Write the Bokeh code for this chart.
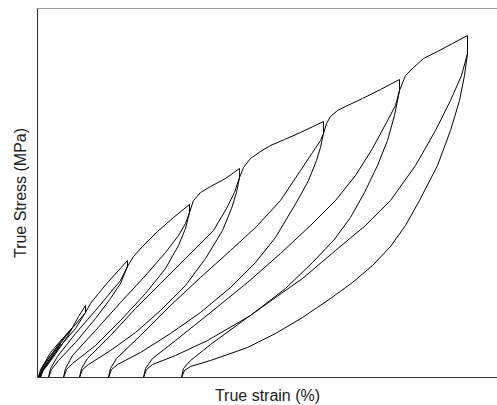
from bokeh.plotting import figure
from bokeh.models import Span, FixedTicker
from bokeh.embed import file_html
from bokeh.resources import INLINE

# Cyclic loading test: each list is one loading/unloading cycle
# strain in %, stress in MPa
cycle1_strain = [0.00, 0.05, 0.13, 0.23, 0.18, 0.11, 0.04, 0.01, 0.03, 0.10, 0.17, 0.23, 0.29, 0.35,
                 0.30, 0.21, 0.12, 0.05, 0.02, 0.04, 0.11, 0.21, 0.29, 0.35, 0.41, 0.48, 0.48,
                 0.38, 0.25, 0.13, 0.06, 0.03]
cycle1_stress = [0.0, 0.8, 2.0, 3.4, 2.5, 1.5, 0.6, 0.0, 0.8, 1.8, 2.7, 3.4, 4.2, 5.0,
                 4.1, 2.8, 1.5, 0.6, 0.0, 0.8, 1.9, 3.3, 4.3, 5.0, 6.1, 7.2, 6.5,
                 4.9, 3.4, 1.9, 0.8, 0.0]

cycle2_strain = [0.03, 0.05, 0.13, 0.25, 0.38, 0.48, 0.53, 0.61, 0.71, 0.81, 0.90, 0.90,
                 0.83, 0.73, 0.58, 0.38, 0.21, 0.14, 0.11]
cycle2_stress = [0.0, 1.1, 2.5, 3.9, 5.3, 6.5, 7.4, 8.4, 9.6, 10.7, 11.7, 11.1,
                 9.4, 7.9, 5.9, 3.5, 1.7, 0.8, 0.0]

cycle3_strain = [0.11, 0.13, 0.20, 0.38, 0.58, 0.73, 0.83, 0.90, 0.96, 1.05, 1.20, 1.36, 1.52, 1.52,
                 1.48, 1.41, 1.28, 1.08, 0.83, 0.58, 0.35, 0.29, 0.26]
cycle3_stress = [0.0, 0.9, 2.1, 4.4, 6.7, 8.5, 9.7, 11.1, 12.1, 13.1, 14.6, 16.0, 17.3, 16.5,
                 14.9, 13.2, 10.9, 8.4, 5.7, 3.2, 1.4, 0.8, 0.0]

cycle4_strain = [0.26, 0.28, 0.35, 0.58, 0.83, 1.08, 1.28, 1.41, 1.48, 1.52, 1.56, 1.63, 1.73, 1.88,
                 2.02, 2.02, 1.99, 1.94, 1.85, 1.68, 1.48, 1.23, 0.98, 0.73, 0.51, 0.45, 0.42]
cycle4_stress = [0.0, 0.9, 2.2, 4.7, 7.5, 10.2, 12.5, 14.2, 15.4, 16.5, 17.7, 18.5, 19.1, 19.9,
                 20.9, 20.0, 18.5, 16.9, 14.7, 11.9, 9.2, 6.7, 4.5, 2.7, 1.3, 0.8, 0.0]

cycle5_strain = [0.42, 0.44, 0.50, 0.73, 0.98, 1.23, 1.48, 1.76, 1.89, 1.97, 2.02, 2.06, 2.13, 2.23,
                 2.33, 2.47, 2.63, 2.86, 2.86, 2.83, 2.79, 2.71, 2.60, 2.38, 2.18, 1.93, 1.63,
                 1.33, 1.03, 0.80, 0.74, 0.71]
cycle5_stress = [0.0, 0.9, 1.9, 4.2, 6.9, 9.4, 11.9, 14.7, 16.9, 18.5, 20.0, 21.0, 21.9, 22.6,
                 23.2, 23.8, 24.5, 25.6, 24.4, 23.0, 21.7, 19.7, 17.7, 14.0, 11.5, 9.0, 6.5,
                 4.4, 2.5, 1.3, 0.8, 0.0]

cycle6_strain = [0.71, 0.73, 0.79, 1.03, 1.33, 1.63, 1.93, 2.18, 2.43, 2.63, 2.75, 2.83, 2.86,
                 2.89, 2.93, 3.00, 3.08, 3.25, 3.43, 3.62, 3.62, 3.57, 3.50, 3.40, 3.27, 3.13,
                 2.96, 2.75, 2.48, 2.13, 1.70, 1.38, 1.15, 1.09, 1.06]
cycle6_stress = [0.0, 0.9, 1.9, 4.2, 7.2, 10.0, 12.7, 15.0, 17.7, 20.7, 22.5, 23.7, 24.4,
                 25.4, 26.1, 26.7, 27.1, 27.9, 28.8, 29.8, 28.7, 26.2, 23.7, 21.2, 18.5, 16.0,
                 13.7, 11.5, 8.9, 6.2, 3.7, 2.2, 1.3, 0.8, 0.0]

cycle7_strain = [1.06, 1.08, 1.15, 1.38, 1.73, 2.10, 2.43, 2.73, 2.98, 3.18, 3.35, 3.49, 3.58, 3.62,
                 3.68, 3.76, 3.86, 4.00, 4.15, 4.30, 4.30, 4.27, 4.22, 4.13, 4.00, 3.82, 3.68,
                 3.53, 3.35, 3.15, 2.93, 2.65, 2.38, 2.10, 1.73, 1.53, 1.47, 1.44]
cycle7_stress = [0.0, 0.9, 1.9, 3.7, 6.5, 9.5, 12.4, 15.2, 17.7, 20.2, 22.9, 25.5, 27.2, 28.7,
                 30.2, 31.0, 31.9, 32.6, 33.4, 34.2, 32.4, 30.2, 27.7, 24.7, 21.2, 17.7, 15.2,
                 13.1, 11.2, 9.5, 7.9, 6.0, 4.4, 3.0, 1.7, 1.1, 0.7, 0.0]

cycle8_strain = [1.44, 1.46, 1.53, 1.73, 2.10, 2.38, 2.65, 2.98, 3.28, 3.53, 3.78, 3.98, 4.13, 4.24, 4.30]
cycle8_stress = [0.0, 0.9, 1.7, 3.3, 6.0, 8.0, 9.9, 12.7, 15.2, 17.7, 21.2, 24.7, 27.7, 30.2, 32.4]

strains = [cycle1_strain, cycle2_strain, cycle3_strain, cycle4_strain,
           cycle5_strain, cycle6_strain, cycle7_strain, cycle8_strain]
stresses = [cycle1_stress, cycle2_stress, cycle3_stress, cycle4_stress,
            cycle5_stress, cycle6_stress, cycle7_stress, cycle8_stress]

x_max = 4.6
y_max = 36.9

p = figure(frame_width=460, frame_height=369, min_border_left=37, min_border_right=0,
           min_border_top=8, min_border_bottom=0,
           x_range=(0, x_max), y_range=(0, y_max),
           output_backend="svg", toolbar_location=None,
           x_axis_label="True strain (%)", y_axis_label="True Stress (MPa)")

p.background_fill_color = "white"
p.border_fill_color = "white"
p.outline_line_color = None
p.grid.visible = False

for ax in (p.xaxis[0], p.yaxis[0]):
    ax.ticker = FixedTicker(ticks=[])
    ax.major_tick_in = 0
    ax.major_tick_out = 0
    ax.minor_tick_in = 0
    ax.minor_tick_out = 0
    ax.major_label_standoff = 0
    ax.major_label_text_font_size = "0px"
    ax.axis_line_color = "#303030"
    ax.axis_line_width = 1
    ax.axis_label_text_font = "Liberation Sans"
    ax.axis_label_text_font_size = "16px"
    ax.axis_label_text_font_style = "normal"
    ax.axis_label_text_color = "#202020"

p.xaxis[0].axis_label_standoff = 9
p.yaxis[0].axis_label_standoff = 9

p.add_layout(Span(location=y_max, dimension="width", line_color="#303030", line_width=1))

p.multi_line(xs=strains, ys=stresses, line_color="black", line_width=1)

open("out.html", "w").write(file_html(p, INLINE))
